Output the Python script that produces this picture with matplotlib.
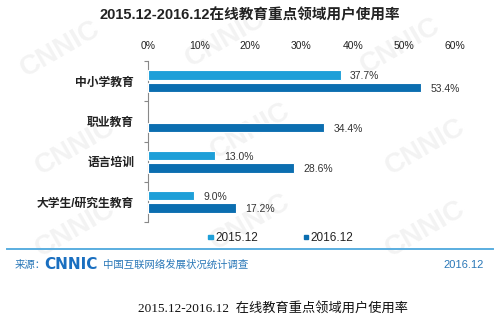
import matplotlib
matplotlib.use("Agg")
import matplotlib.pyplot as plt
import numpy as np

plt.rcParams['font.family'] = ['Liberation Sans', 'Noto Sans CJK SC', 'DejaVu Sans']

categories = ["中小学教育", "职业教育", "语言培训", "大学生/研究生教育"]
series_names = ["2015.12", "2016.12"]
v2015 = [37.7, None, 13.0, 9.0]
v2016 = [53.4, 34.4, 28.6, 17.2]
xticks = [0, 10, 20, 30, 40, 50, 60]

c_light = "#1e9fd8"
c_dark = "#0b6eb0"
blue_txt = "#2a78b8"

fig = plt.figure(figsize=(5, 3.27), dpi=100)
ax = fig.add_axes([0.296, 0.321, 0.614, 0.4925])

# faint watermarks, kept inside the canvas
for wx, wy in [(0.12, 0.85), (0.45, 0.88), (0.8, 0.86), (0.15, 0.55),
               (0.5, 0.6), (0.85, 0.55), (0.15, 0.3), (0.5, 0.32), (0.85, 0.3)]:
    fig.text(wx, wy, "CNNIC", fontsize=20, fontweight="bold", color="#f3f3f3",
             rotation=30, ha="center", va="center", zorder=-1)

y = np.arange(len(categories))
h = 0.235
off = 0.155
for i, (a, b) in enumerate(zip(v2015, v2016)):
    if a is not None:
        ax.barh(y[i] - off, a, height=h, color=c_light, edgecolor="white", linewidth=0.8, zorder=3)
        ax.text(a + 1.8, y[i] - off + 0.03, f"{a:.1f}%", va="center", ha="left",
                fontsize=7.5, color="#333333", zorder=4)
    ax.barh(y[i] + off, b, height=h, color=c_dark, edgecolor="white", linewidth=0.8, zorder=3)
    ax.text(b + 1.8, y[i] + off + 0.03, f"{b:.1f}%", va="center", ha="left",
            fontsize=7.5, color="#333333", zorder=4)

ax.set_ylim(len(categories) - 0.5, -0.5)
ax.set_xlim(0, 60)
ax.set_xticks(xticks)
ax.set_xticklabels([f"{t}%" for t in xticks], fontsize=7.5, color="#222222")
ax.xaxis.tick_top()
ax.tick_params(axis="x", length=0, pad=7)
ax.set_yticks(np.arange(-0.5, len(categories), 1.0))
ax.set_yticklabels([])
ax.set_yticks(y, minor=True)
ax.set_yticklabels(categories, minor=True, fontsize=8.5, fontweight="bold", color="#222222")
ax.tick_params(axis="y", which="major", length=3, color="#888888", direction="out")
ax.tick_params(axis="y", which="minor", length=0, pad=10)
for s in ["top", "right", "bottom"]:
    ax.spines[s].set_visible(False)
ax.spines["left"].set_color("#888888")
ax.spines["left"].set_linewidth(0.8)
ax.patch.set_alpha(0)

fig.text(0.5, 0.953, "2015.12-2016.12在线教育重点领域用户使用率", ha="center", va="center",
         fontsize=10.5, fontweight="bold", color="#222222")

# legend
for lx, col, name in [(0.416, c_light, series_names[0]), (0.607, c_dark, series_names[1])]:
    fig.patches.append(plt.Rectangle((lx, 0.268), 0.009, 0.013, transform=fig.transFigure,
                                     color=col, zorder=5))
    fig.text(lx + 0.014, 0.273, name, ha="left", va="center", fontsize=8.5,
             color="#222222")

fig.add_artist(plt.Line2D([0.014, 0.986], [0.238, 0.238], color="#5aaee0", linewidth=1.4))

fig.text(0.03, 0.19, "来源：", ha="left", va="center", fontsize=7.5, color=blue_txt)
fig.text(0.088, 0.19, "CNNIC", ha="left", va="center", fontsize=11, fontweight="heavy",
         color="#1a6fc0", family=["DejaVu Sans"])
fig.text(0.205, 0.19, "中国互联网络发展状况统计调查", ha="left", va="center", fontsize=7.5,
         color=blue_txt)
fig.text(0.967, 0.19, "2016.12", ha="right", va="center", fontsize=8, color=blue_txt)

fig.text(0.546, 0.058, "2015.12-2016.12  在线教育重点领域用户使用率", ha="center", va="center",
         fontsize=9.5, color="#111111", family=["Liberation Serif", "Noto Sans CJK SC"])

fig.savefig("out.png", dpi=100)
